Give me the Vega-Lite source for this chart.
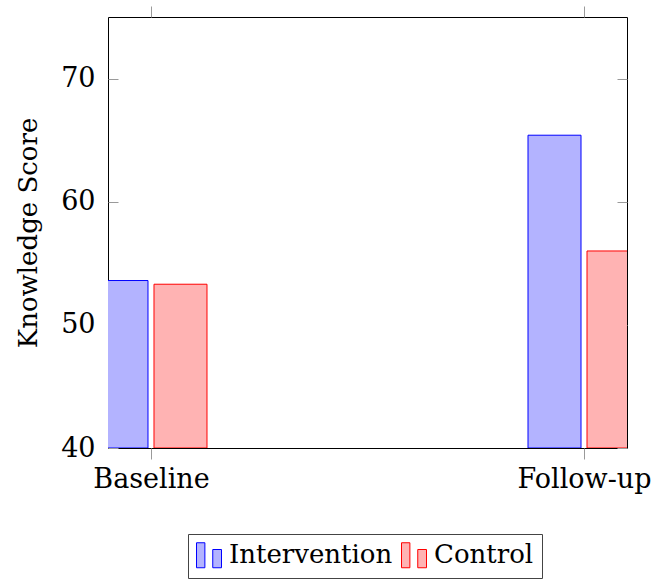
{
  "$schema": "https://vega.github.io/schema/vega-lite/v6.json",
  "width": 519,
  "height": 431,
  "autosize": "none",
  "padding": {"left": 108, "top": 17, "right": 24, "bottom": 133},
  "background": "#ffffff",
  "config": {
    "view": {"stroke": "#000000", "strokeWidth": 1},
    "font": "DejaVu Serif",
    "axis": {
      "grid": false,
      "domain": false,
      "tickColor": "#9a9a9a",
      "tickWidth": 1,
      "labelFont": "DejaVu Serif",
      "labelFontSize": 27,
      "labelColor": "#000000",
      "labelLimit": 0,
      "titleFont": "DejaVu Serif",
      "titleFontSize": 26,
      "titleFontWeight": "normal",
      "titleColor": "#000000"
    }
  },
  "data": {
    "values": [
      {"time": "Baseline", "group": "Intervention", "score": 53.6},
      {"time": "Baseline", "group": "Control", "score": 53.3},
      {"time": "Follow-up", "group": "Intervention", "score": 65.4},
      {"time": "Follow-up", "group": "Control", "score": 56.0}
    ]
  },
  "layer": [
    {
      "transform": [{"filter": "datum.group === 'Intervention'"}],
      "mark": {"type": "bar", "width": 53, "xOffset": -29.5, "clip": true, "strokeWidth": 1, "fillOpacity": 1},
      "encoding": {
        "x": {
          "field": "time", "type": "ordinal",
          "scale": {"type": "point", "padding": 0.0993, "domain": ["Baseline", "Follow-up"]},
          "axis": {"orient": "bottom", "title": null, "labelAngle": 0, "tickSize": 11, "labelPadding": 7}
        },
        "y": {
          "field": "score", "type": "quantitative",
          "scale": {"domain": [40, 75], "nice": false, "zero": false},
          "axis": {"orient": "left", "title": "Knowledge Score", "values": [40, 50, 60, 70], "tickSize": -10, "labelPadding": 23, "titlePadding": 19}
        },
        "y2": {"datum": 40},
        "fill": {
          "field": "group", "type": "nominal",
          "scale": {"domain": ["Intervention", "Control"], "range": ["#b3b3ff", "#ffb3b3"]},
          "legend": {
            "orient": "none", "legendX": 80, "legendY": 517, "direction": "horizontal", "title": null,
            "symbolType": "M-1,-1H-0.33V1H-1Z M0.3,-0.46H1V1H0.3Z",
            "symbolSize": 625, "symbolStrokeWidth": 1, "symbolOpacity": 1,
            "labelFont": "DejaVu Serif", "labelFontSize": 26, "labelColor": "#000000", "labelLimit": 0,
            "labelOffset": 7, "columnPadding": 6, "padding": 8, "strokeColor": "#444444"
          }
        },
        "stroke": {
          "field": "group", "type": "nominal",
          "scale": {"domain": ["Intervention", "Control"], "range": ["#0000ff", "#ff0000"]},
          "legend": {
            "orient": "none", "legendX": 80, "legendY": 517, "direction": "horizontal", "title": null,
            "symbolType": "M-1,-1H-0.33V1H-1Z M0.3,-0.46H1V1H0.3Z",
            "symbolSize": 625, "symbolStrokeWidth": 1, "symbolOpacity": 1,
            "labelFont": "DejaVu Serif", "labelFontSize": 26, "labelColor": "#000000", "labelLimit": 0,
            "labelOffset": 7, "columnPadding": 6, "padding": 8, "strokeColor": "#444444"
          }
        }
      }
    },
    {
      "transform": [{"filter": "datum.group === 'Control'"}],
      "mark": {"type": "bar", "width": 53, "xOffset": 29.5, "clip": true, "strokeWidth": 1, "fillOpacity": 1},
      "encoding": {
        "x": {
          "field": "time", "type": "ordinal",
          "scale": {"type": "point", "padding": 0.0993, "domain": ["Baseline", "Follow-up"]},
          "axis": {"orient": "top", "title": null, "labels": false, "tickSize": 11}
        },
        "y": {
          "field": "score", "type": "quantitative",
          "scale": {"domain": [40, 75], "nice": false, "zero": false},
          "axis": {"orient": "right", "title": null, "labels": false, "values": [40, 50, 60, 70], "tickSize": -10}
        },
        "y2": {"datum": 40},
        "fill": {"field": "group", "type": "nominal"},
        "stroke": {"field": "group", "type": "nominal"}
      }
    }
  ],
  "resolve": {"axis": {"x": "independent", "y": "independent"}}
}
